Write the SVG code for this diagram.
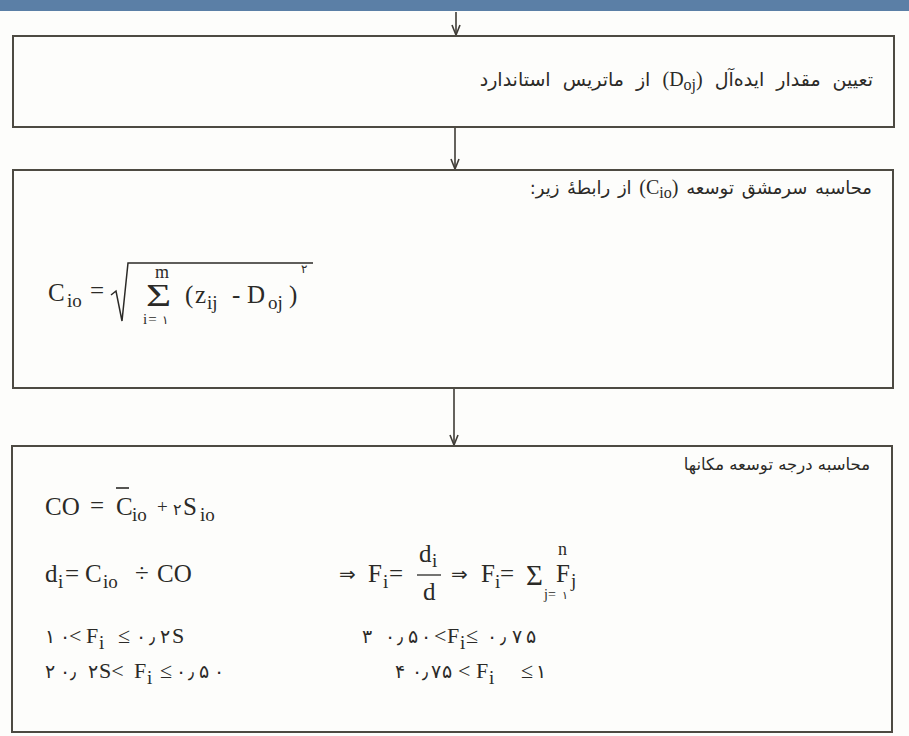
<svg xmlns="http://www.w3.org/2000/svg" width="909" height="736" viewBox="0 0 909 736">
<style>
.bg{fill:#fdfdfb}
.box{fill:none;stroke:#4d4a42;stroke-width:2}
.con{stroke:#3f3c36;stroke-width:1.6;fill:none}
text{fill:#2b2a27}
.fa{font-family:'DejaVu Sans','Noto Sans',sans-serif;font-size:17px}
.lat{font-family:'Liberation Serif','Times New Roman',serif;font-size:20px}
.m{font-family:'Liberation Serif','DejaVu Sans',serif;font-size:25px}
.r{font-family:'Liberation Serif','DejaVu Sans',serif;font-size:22px}
.sb{font-family:'Liberation Serif',serif;font-size:19px}
.fd{font-family:'DejaVu Sans',sans-serif;font-size:19px}
.sym{font-family:'DejaVu Sans',sans-serif;font-size:20px}
</style>
<defs>
<marker id="ah" viewBox="0 0 12 10" refX="11" refY="5" markerWidth="12" markerHeight="10" markerUnits="userSpaceOnUse" orient="auto">
<path d="M1,1 L11,5 L1,9" fill="none" stroke="#3f3c36" stroke-width="1.6"/>
</marker>
</defs>
<rect class="bg" x="0" y="0" width="909" height="736"/>
<rect x="0" y="0" width="909" height="11" fill="#5b7fa6"/>

<g id="connectors">
<line class="con" x1="456" y1="12" x2="456" y2="35" marker-end="url(#ah)"/>
<line class="con" x1="455" y1="128" x2="455" y2="169" marker-end="url(#ah)"/>
<line class="con" x1="454" y1="389" x2="454" y2="445" marker-end="url(#ah)"/>
</g>

<g id="node1">
<rect class="box" x="13" y="36" width="881" height="91"/>
<text class="fa" direction="rtl" text-anchor="start" x="873" y="86" style="font-size:19px;word-spacing:6px">تعیین مقدار ایده‌آل <tspan class="lat">(D<tspan baseline-shift="-4" style="font-size:16px">oj</tspan>)</tspan> از ماتریس استاندارد</text>
</g>

<g id="node2">
<rect class="box" x="13" y="170" width="880" height="218"/>
<text class="fa" direction="rtl" text-anchor="start" x="872" y="194" style="font-size:18px;word-spacing:2px">محاسبه سرمشق توسعه <tspan class="lat">(C<tspan baseline-shift="-4" style="font-size:16px">io</tspan>)</tspan> از رابطهٔ زیر:</text>
<text class="m" x="48" y="301">C</text>
<text class="sb" x="67" y="307">io</text>
<text class="m" x="90" y="299">=</text>
<path d="M111,295 L116,291 L122,321 L128,263 L313,263" fill="none" stroke="#2b2a27" stroke-width="1.5"/>
<text class="m" x="155" y="278" style="font-size:18px">m</text>
<text class="m" transform="translate(146,306) scale(1.35,1)" x="0" y="0" style="font-size:32px">Σ</text>
<text class="sb" x="143" y="324" style="font-size:15px">i<tspan dx="1">=</tspan></text>
<text class="fd" x="162" y="324" style="font-size:12px">۱</text>
<text class="m" x="185" y="303">(</text>
<text class="m" x="195" y="303">z</text>
<text class="sb" x="207" y="309">ij</text>
<text class="m" x="232" y="303">-</text>
<text class="m" x="247" y="303">D</text>
<text class="sb" x="268" y="309">oj</text>
<text class="m" x="289" y="303">)</text>
<text class="fd" x="301" y="273" style="font-size:12px">۲</text>
</g>

<g id="node3">
<rect class="box" x="12" y="446" width="880" height="286"/>
<text class="fa" direction="rtl" text-anchor="start" x="870" y="470" style="font-size:16.5px">محاسبه درجه توسعه مکانها</text>

<text class="m" x="45" y="515">CO</text>
<text class="m" x="90" y="514">=</text>
<text class="m" x="116" y="515">C</text>
<line x1="116" y1="488" x2="129" y2="488" stroke="#2b2a27" stroke-width="1.6"/>
<text class="sb" x="132" y="521">io</text>
<text class="m" x="157" y="513" style="font-size:19px">+</text>
<text class="fd" x="173" y="515" style="font-size:16px">۲</text>
<text class="m" x="183" y="515">S</text>
<text class="sb" x="200" y="521">io</text>

<text class="m" x="45" y="582">d</text>
<text class="sb" x="58" y="588">i</text>
<text class="m" x="65" y="582">=</text>
<text class="m" x="85" y="582">C</text>
<text class="sb" x="103" y="588">io</text>
<text class="m" x="135" y="582">÷</text>
<text class="m" x="157" y="582">CO</text>

<text class="sym" x="339" y="581">⇒</text>
<text class="m" x="368" y="582">F</text>
<text class="sb" x="383" y="588">i</text>
<text class="m" x="389" y="582">=</text>
<text class="m" x="419" y="562">d</text>
<text class="sb" x="432" y="567">i</text>
<line x1="417" y1="575" x2="441" y2="575" stroke="#2b2a27" stroke-width="1.3"/>
<text class="m" x="423" y="600">d</text>
<text class="sym" x="451" y="581">⇒</text>
<text class="m" x="481" y="582">F</text>
<text class="sb" x="495" y="588">i</text>
<text class="m" x="500" y="582">=</text>
<text class="m" x="526" y="585" style="font-size:29px">Σ</text>
<text class="m" x="558" y="555" style="font-size:18px">n</text>
<text class="m" x="556" y="582">F</text>
<text class="sb" x="571" y="587">j</text>
<text class="sb" x="544" y="599" style="font-size:14px">j<tspan>=</tspan></text>
<text class="fd" x="562" y="599" style="font-size:11px">۱</text>

<text class="fd" x="45" y="643">۱</text>
<text class="fd" x="60" y="643">۰</text>
<text class="r" x="69" y="643">&lt;</text>
<text class="r" x="86" y="643">F</text>
<text class="sb" x="99" y="649">i</text>
<text class="r" x="118" y="643">≤</text>
<text class="fd" x="136 149 160" y="643">۰٫۲</text>
<text class="r" x="172" y="643">S</text>

<text class="fd" x="45" y="678">۲</text>
<text class="fd" x="60 70" y="678">۰٫</text>
<text class="fd" x="88" y="678">۲</text>
<text class="r" x="99" y="678">S&lt;</text>
<text class="r" x="134" y="678">F</text>
<text class="sb" x="147" y="684">i</text>
<text class="r" x="160" y="678">≤</text>
<text class="fd" x="176 188 199 214" y="678">۰٫۵۰</text>

<text class="fd" x="362" y="643">۳</text>
<text class="fd" x="385 397 408 421" y="643">۰٫۵۰</text>
<text class="r" x="434" y="643">&lt;</text>
<text class="r" x="447" y="643">F</text>
<text class="sb" x="460" y="649">i</text>
<text class="r" x="466" y="643">≤</text>
<text class="fd" x="487 500 512 526" y="643">۰٫۷۵</text>

<text class="fd" x="395" y="678">۴</text>
<text class="fd" x="412 422 431 442" y="678">۰٫۷۵</text>
<text class="r" x="458" y="678">&lt;</text>
<text class="r" x="476" y="678">F</text>
<text class="sb" x="489" y="684">i</text>
<text class="r" x="521" y="678">≤</text>
<text class="fd" x="536" y="678">۱</text>
</g>
</svg>
